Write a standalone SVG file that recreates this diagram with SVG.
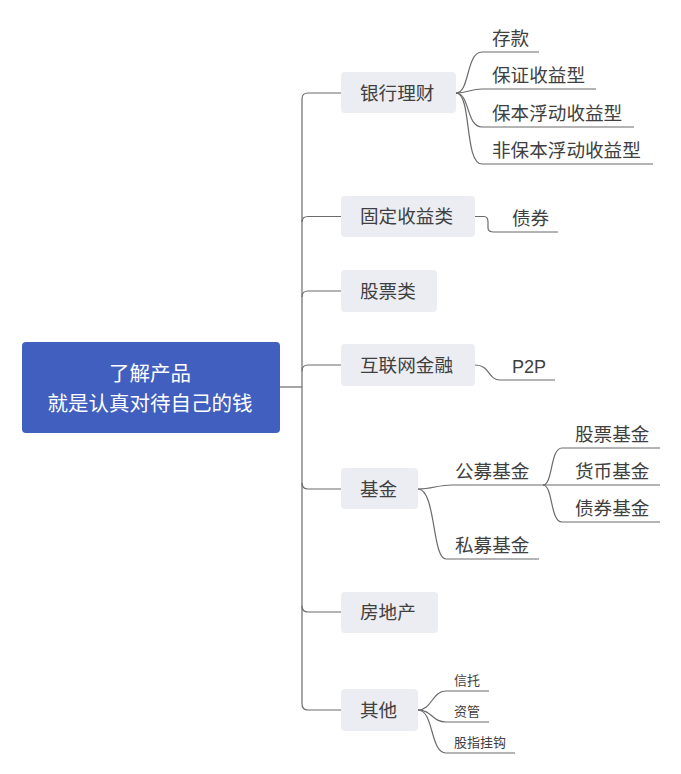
<svg xmlns="http://www.w3.org/2000/svg" width="681" height="774" viewBox="0 0 681 774">
<style>
.ln{fill:none;stroke:#6b6b6b;stroke-width:1.2}
.box{fill:#ecedf2}
.t{font-family:"Noto Sans CJK SC","Noto Sans",sans-serif;font-size:18.6px;fill:#404040}
.s{font-family:"Noto Sans CJK SC","Noto Sans",sans-serif;font-size:13px;fill:#404040}
.r{font-family:"Noto Sans CJK SC","Noto Sans",sans-serif;font-size:20.5px;fill:#ffffff;text-anchor:middle}
</style>
<rect width="681" height="774" fill="#ffffff"/>
<g id="connectors">
<path class="ln" d="M280,387 H302"/>
<path class="ln" d="M341,93 H308 Q302,93 302,99 V704 Q302,710 308,710 H341"/>
<path class="ln" d="M302,222 Q302,216.5 308,216.5 H341"/>
<path class="ln" d="M302,297 Q302,291 308,291 H341"/>
<path class="ln" d="M302,371 Q302,365 308,365 H341"/>
<path class="ln" d="M302,483 Q302,489 308,489 H341"/>
<path class="ln" d="M302,606 Q302,612 308,612 H341"/>
<path class="ln" d="M456,93 C470,93 466,52 482,52 H539"/>
<path class="ln" d="M456,93 C468,93 470,89 482,89 H596"/>
<path class="ln" d="M456,93 C470,93 466,127 482,127 H634"/>
<path class="ln" d="M456,93 C472,93 464,164 482,164 H653"/>
<path class="ln" d="M475,216.5 H484 Q488,216.5 488,222 V228 Q488,232 494,232 H558"/>
<path class="ln" d="M475,365 C490,365 488,380 500,380 H555"/>
<path class="ln" d="M418,489 C432,489 438,485 452,485 H660"/>
<path class="ln" d="M418,489 C436,489 432,559 446,559 H539"/>
<path class="ln" d="M543,485 C553,485 550,448 562,448 H660"/>
<path class="ln" d="M543,485 C553,485 550,522 562,522 H660"/>
<path class="ln" d="M418,710 C432,710 432,691 446,691 H489"/>
<path class="ln" d="M418,710 C432,710 432,722 446,722 H489"/>
<path class="ln" d="M418,710 C434,710 430,753 446,753 H515"/>
</g>
<g id="root">
<rect x="22" y="342" width="258" height="91" rx="4" fill="#415fbe"/>
<text class="r" x="150" y="381">了解产品</text>
<text class="r" x="150" y="411">就是认真对待自己的钱</text>
</g>
<g id="n1"><rect class="box" x="341" y="72" width="115" height="41" rx="4"/><text class="t" x="360" y="99.5">银行理财</text></g>
<g id="n2"><rect class="box" x="341" y="196" width="134" height="41" rx="4"/><text class="t" x="360" y="223">固定收益类</text></g>
<g id="n3"><rect class="box" x="341" y="270" width="96" height="42" rx="4"/><text class="t" x="360" y="297.5">股票类</text></g>
<g id="n4"><rect class="box" x="341" y="344" width="134" height="42" rx="4"/><text class="t" x="360" y="371.5">互联网金融</text></g>
<g id="n5"><rect class="box" x="341" y="468" width="77" height="41" rx="4"/><text class="t" x="360" y="495.5">基金</text></g>
<g id="n6"><rect class="box" x="341" y="592" width="97" height="41" rx="4"/><text class="t" x="360" y="618.5">房地产</text></g>
<g id="n7"><rect class="box" x="341" y="689" width="77" height="42" rx="4"/><text class="t" x="360" y="716.5">其他</text></g>
<g id="l1"><text class="t" x="492" y="45">存款</text></g>
<g id="l2"><text class="t" x="492" y="82">保证收益型</text></g>
<g id="l3"><text class="t" x="492" y="120">保本浮动收益型</text></g>
<g id="l4"><text class="t" x="492" y="157">非保本浮动收益型</text></g>
<g id="l5"><text class="t" x="512" y="225">债券</text></g>
<g id="l6"><text class="t" x="512" y="373" style="font-family:'Liberation Sans','Noto Sans',sans-serif;font-size:18px">P2P</text></g>
<g id="l7"><text class="t" x="455" y="478">公募基金</text></g>
<g id="l8"><text class="t" x="455" y="552">私募基金</text></g>
<g id="l9"><text class="t" x="575" y="441">股票基金</text></g>
<g id="l10"><text class="t" x="575" y="478">货币基金</text></g>
<g id="l11"><text class="t" x="575" y="515">债券基金</text></g>
<g id="l12"><text class="s" x="454" y="685">信托</text></g>
<g id="l13"><text class="s" x="454" y="716">资管</text></g>
<g id="l14"><text class="s" x="454" y="747">股指挂钩</text></g>
</svg>
